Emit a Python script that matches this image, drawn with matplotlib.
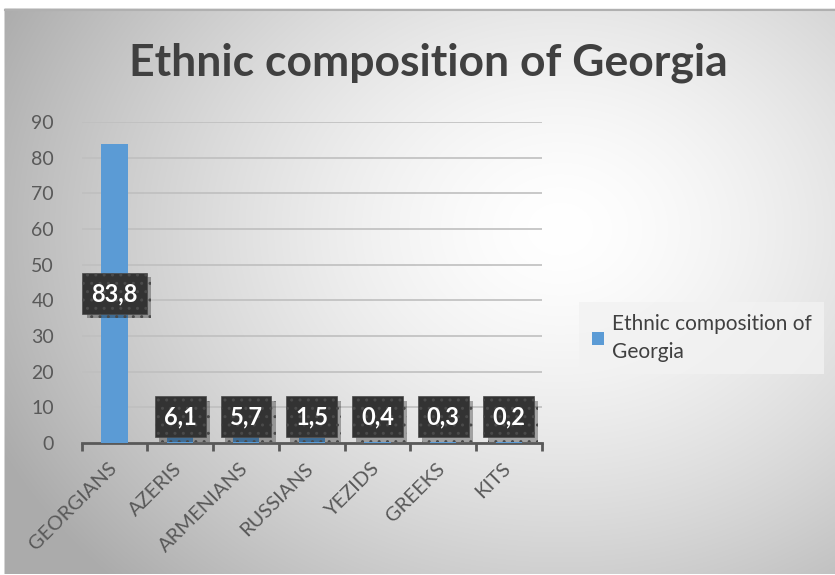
import numpy as np
import matplotlib
matplotlib.use('Agg')
import matplotlib.pyplot as plt
import matplotlib.patheffects as pe
import matplotlib.transforms as mtransforms

# data
groups = ['GEORGIANS', 'AZERIS', 'ARMENIANS', 'RUSSIANS', 'YEZIDS', 'GREEKS', 'KITS']
shares = [83.8, 6.1, 5.7, 1.5, 0.4, 0.3, 0.2]
labels = ['83,8', '6,1', '5,7', '1,5', '0,4', '0,3', '0,2']
title = 'Ethnic composition of Georgia'

FONT = 'Lato'
W, H = 835, 575
fig = plt.figure(figsize=(W / 100, H / 100), dpi=100)

# radial gradient background of the chart area
bg = fig.add_axes([0, 0, 1, 1], zorder=-5)
yy, xx = np.mgrid[0:H, 0:W]
d = np.sqrt(((xx - 560) / 520.0) ** 2 + ((yy - 230) / 420.0) ** 2)
v = 1.0 - 0.25 * np.clip(d, 0, 1.2) ** 1.5
v[(yy < 10) | (xx < 5)] = 1.0
img = np.dstack([v, v, v])
bg.imshow(img, aspect='auto', interpolation='bilinear')
bg.plot([5, W], [10, 10], color='#b0b0b0', lw=1.5)
bg.set_xlim(0, W)
bg.set_ylim(H, 0)
bg.axis('off')

ax = fig.add_axes([81.7 / W, 132 / H, 460 / W, 321 / H])
ax.patch.set_alpha(0)
x = np.arange(len(groups))
bars = ax.bar(x, shares, width=0.4, color='#5B9BD5', zorder=3)
ax.set_xlim(-0.5, len(groups) - 0.5)
ax.set_ylim(0, 90)
ax.set_yticks(range(0, 91, 10))
ax.grid(axis='y', color='#bfbfbf', lw=1.2, zorder=0)
for s in ['top', 'right', 'left']:
    ax.spines[s].set_visible(False)
ax.spines['bottom'].set_color('#595959')
ax.spines['bottom'].set_linewidth(2)
ax.tick_params(axis='y', length=0, labelsize=14, labelcolor='#595959', pad=20)
ax.set_xticks(x)
ax.set_xticklabels(groups, rotation=45, ha='right', rotation_mode='anchor',
                   fontsize=14.5, color='#595959', family=FONT)
ax.tick_params(axis='x', which='major', length=0, pad=12)
ax.set_xticks(np.arange(-0.5, len(groups)), minor=True)
ax.tick_params(axis='x', which='minor', length=6, width=2, color='#595959', direction='out')
for t in ax.get_yticklabels():
    t.set_family(FONT)
shift = mtransforms.ScaledTranslation(-7 / 100, 0, fig.dpi_scale_trans)
for t in ax.get_xticklabels():
    t.set_transform(t.get_transform() + shift)

# data labels
for i, (val, lab) in enumerate(zip(shares, labels)):
    ypos = val / 2 if val > 20 else 7.3
    t = ax.text(i, ypos, lab, ha='center', va='center', color='white',
                fontsize=17, fontweight='bold', family=FONT, zorder=5,
                bbox=dict(boxstyle='square,pad=0.38', facecolor='#333333',
                          edgecolor='#4a4a4a', hatch='..', lw=0.5))
    t.get_bbox_patch().set_path_effects([
        pe.SimplePatchShadow(offset=(3, -3), shadow_rgbFace='black', alpha=0.3),
        pe.Normal()])

fig.text(428 / W, 1 - 63 / H, title, ha='center', va='center', fontsize=32,
         fontweight='bold', color='#404040', family=FONT)

# legend
leg = fig.legend([bars], ['Ethnic composition of\nGeorgia'], loc='center left',
                 bbox_to_anchor=(569 / W, 1 - 338 / H), frameon=True,
                 handlelength=0.6, handleheight=0.6,
                 handletextpad=0.35, borderpad=0.6, fancybox=False,
                 prop={'family': FONT, 'size': 15})
leg.get_frame().set_facecolor('#f2f2f2')
leg.get_frame().set_edgecolor('none')
leg.get_frame().set_alpha(0.8)
for txt in leg.get_texts():
    txt.set_color('#404040')
    txt.set_linespacing(1.45)

fig.savefig('out.png', dpi=100)
